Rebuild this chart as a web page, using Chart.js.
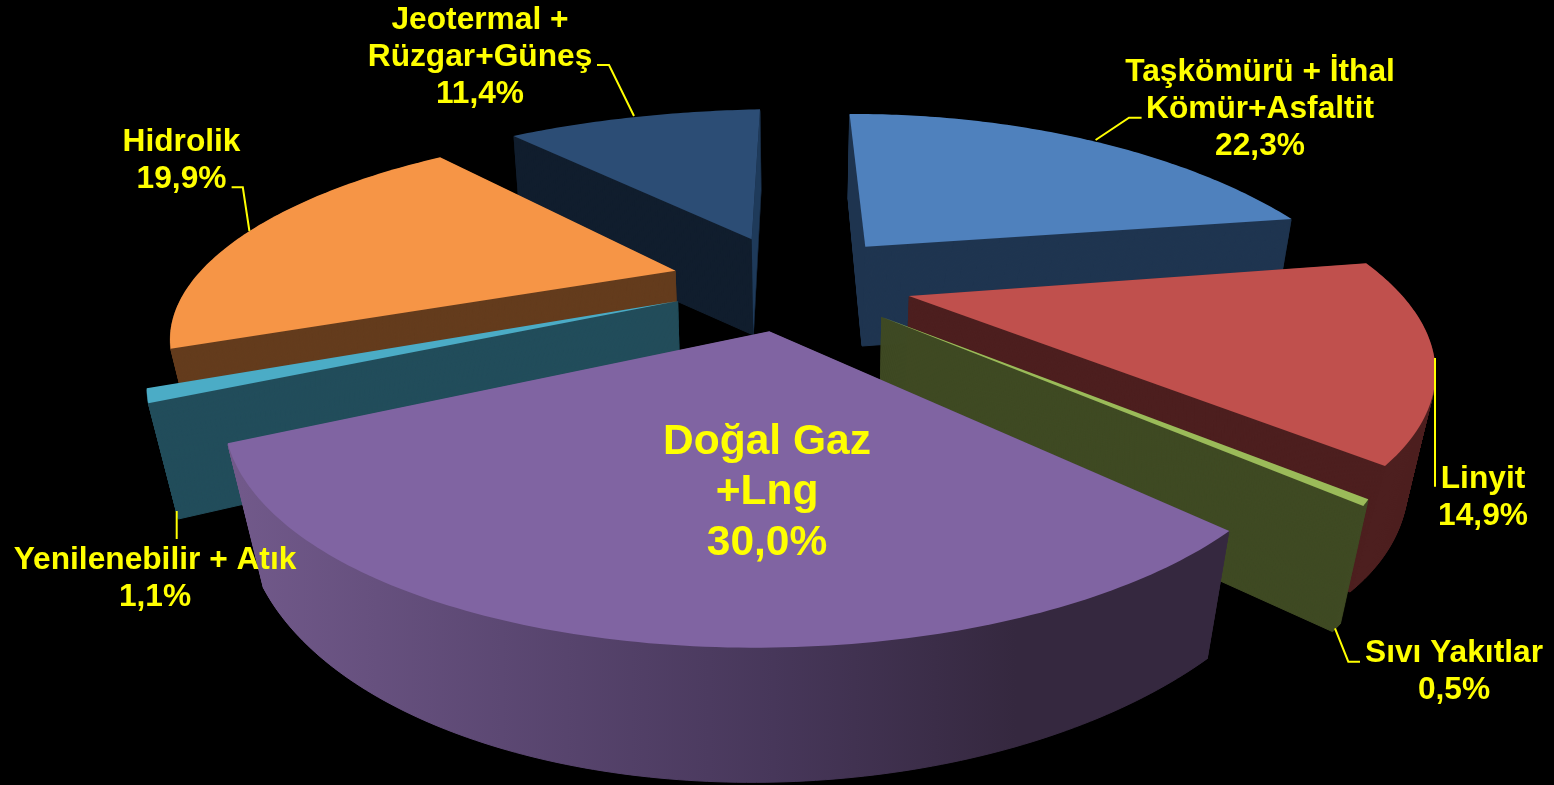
<!DOCTYPE html>
<html>
<head>
<meta charset="utf-8">
<style>html,body{margin:0;padding:0;background:#000;overflow:hidden}canvas{display:block}</style>
<script src="https://cdn.jsdelivr.net/npm/chart.js@4/dist/chart.umd.js"></script>
</head>
<body>
<canvas id="c" width="1554" height="785"></canvas>
<script>
const categories = ["Taşkömürü + İthal Kömür+Asfaltit","Linyit","Sıvı Yakıtlar","Doğal Gaz +Lng","Yenilenebilir + Atık","Hidrolik","Jeotermal + Rüzgar+Güneş"];
const values = [22.3,14.9,0.5,30.0,1.1,19.9,11.4];
const topColors = ["#4f81bd","#c0504d","#9bbb59","#8064a2","#4bacc6","#f69546","#2c4d75"];
const wallColors = ["#1f3550","#4d1f1f","#3f4a23",null,"#224d5b","#643c1d","#111e2e"];

// Projected placement of each exploded slice: tip, start corner, end corner, mid-arc; top face and bottom face.
const placement = [
 {top:[[865.3,246.7],[849.6,114],[1291.6,219],[1075,137]], bot:[[862,346],[848,198],[1275,316],[1070,232]]},
 {top:[[908.9,296],[1366.2,263.3],[1385,466],[1434,356]], bot:[[905,400],[1345,350],[1350,592],[1408,477]]},
 {top:[[881.3,316.7],[1368.3,499.3],[1363.3,506],null], bot:[[879,427],[1340.7,623.3],[1332.7,631.7],null]},
 {top:[[769.3,331.3],[1229.3,531],[227.7,443.3],[627,641]], bot:[[766,440],[1207.7,658.3],[263,587],[659,778]]},
 {top:[[678.1,301],[148.3,403.3],[146.7,388.3],null], bot:[[681,405],[178.3,519],[176,505],null]},
 {top:[[675.6,270.7],[170.6,348.7],[440.1,157.3],[248,232]], bot:[[679,372],[197,454],[445,250],[262,324]]},
 {top:[[751.7,239.3],[513.5,136],[760,109.3],[631,117.5]], bot:[[753.3,335],[520.5,232],[761,190],[635,215]]}
];
const drawOrder = [6,0,5,4,1,2,3];
const wallGradientStops = [[0,"#71598a"],[0.27,"#5c4873"],[0.55,"#47375a"],[0.8,"#35283f"],[1,"#35283f"]];
const edgeFace = {6:"#1e3a5a"};

const labelLines = [["Taşkömürü + İthal","Kömür+Asfaltit"],["Linyit"],["Sıvı Yakıtlar"],["Doğal Gaz","+Lng"],["Yenilenebilir + Atık"],["Hidrolik"],["Jeotermal +","Rüzgar+Güneş"]];
const labelPlace = [
 {x:1260,y:72,lh:37,size:31.7},{x:1483,y:479,lh:37,size:31.7},{x:1454,y:653,lh:37,size:31.7},
 {x:767,y:442,lh:50.5,size:42.5},{x:155,y:560,lh:37,size:31.7},{x:181.5,y:142,lh:37,size:31.7},{x:480,y:20,lh:37,size:31.7}
];
const leaders = [
 [[1095.6,140],[1129,117.7],[1141.6,117.7]],
 [[1435,358],[1435,486.7]],
 [[1335,628.3],[1348.3,661.7],[1360,661.7]],
 null,
 [[176.7,511],[176.7,539]],
 [[249.4,231],[242.8,187.3],[231.6,187.3]],
 [[634,116],[609,65],[597,65]]
];

function solve(A,b){
  const n=b.length;
  for(let i=0;i<n;i++){
    let p=i;for(let r=i+1;r<n;r++)if(Math.abs(A[r][i])>Math.abs(A[p][i]))p=r;
    [A[i],A[p]]=[A[p],A[i]];[b[i],b[p]]=[b[p],b[i]];
    for(let r=i+1;r<n;r++){const f=A[r][i]/A[i][i];for(let c=i;c<n;c++)A[r][c]-=f*A[i][c];b[r]-=f*b[i];}
  }
  const x=new Array(n);
  for(let i=n-1;i>=0;i--){let s=b[i];for(let c=i+1;c<n;c++)s-=A[i][c]*x[c];x[i]=s/A[i][i];}
  return x;
}
function homography(src,dst){
  const A=[],b=[];
  for(let i=0;i<4;i++){
    const [u,v]=src[i],[x,y]=dst[i];
    A.push([u,v,1,0,0,0,-u*x,-v*x]);b.push(x);
    A.push([0,0,0,u,v,1,-u*y,-v*y]);b.push(y);
  }
  const h=solve(A,b);
  return (u,v)=>{const w=h[6]*u+h[7]*v+1;return [(h[0]*u+h[1]*v+h[2])/w,(h[3]*u+h[4]*v+h[5])/w];};
}
function filledCorners(pts,half){
  if(pts[3])return pts;
  const [T,A,B]=pts,c=Math.cos(half);
  return [T,A,B,[T[0]+(A[0]+B[0]-2*T[0])/(2*c),T[1]+(A[1]+B[1]-2*T[1])/(2*c)]];
}
// A drawing context that passes the arc element's own path through a projection.
function projectedContext(real,el,map,wall){
  const R=el.outerRadius,cx=el.x,cy=el.y;
  const P=(x,y)=>map((x-cx)/R,(y-cy)/R);
  let first=true;
  const put=(x,y)=>{const p=P(x,y);if(first){real.moveTo(p[0],p[1]);first=false;}else real.lineTo(p[0],p[1]);};
  const api={
    beginPath(){real.beginPath();first=true;},
    moveTo(x,y){first=true;put(x,y);},
    lineTo(x,y){put(x,y);},
    arc(x,y,r,a0,a1,ccw){
      let d=a1-a0;
      if(ccw&&d>0)d-=2*Math.PI;
      if(!ccw&&d<0)d+=2*Math.PI;
      const n=Math.max(1,Math.ceil(Math.abs(d)/0.015));
      for(let i=0;i<=n;i++){const a=a0+d*i/n;put(x+r*Math.cos(a),y+r*Math.sin(a));}
    },
    closePath(){real.closePath();},
    fill(){real.fill();if(wall)real.stroke();}
  };
  return new Proxy(api,{
    get(t,k){return k in t?t[k]:()=>{};},
    set(t,k,v){if(k==='fillStyle'&&!wall)real.fillStyle=v;return true;}
  });
}
const pie3d={
  id:'pie3d',
  beforeDatasetDraw(chart){
    const ctx=chart.ctx,meta=chart.getDatasetMeta(0);
    const grad=ctx.createLinearGradient(240,0,1210,0);
    wallGradientStops.forEach(s=>grad.addColorStop(s[0],s[1]));
    for(const i of drawOrder){
      const el=meta.data[i],a=el.startAngle,b=el.endAngle,h=(b-a)/2,m=(a+b)/2;
      const src=[[0,0],[Math.cos(a),Math.sin(a)],[Math.cos(b),Math.sin(b)],[Math.cos(m),Math.sin(m)]];
      const top=filledCorners(placement[i].top,h),bot=filledCorners(placement[i].bot,h);
      ctx.save();
      ctx.fillStyle=wallColors[i]||grad;
      ctx.strokeStyle=wallColors[i]||grad;
      ctx.lineWidth=1;
      const layers=Math.ceil(Math.max(...top.map((p,j)=>Math.abs(bot[j][1]-p[1]))));
      for(let k=layers;k>=1;k--){
        const t=k/layers;
        const pts=top.map((p,j)=>[p[0]+(bot[j][0]-p[0])*t,p[1]+(bot[j][1]-p[1])*t]);
        el.draw(projectedContext(ctx,el,homography(src,pts),true));
      }
      if(edgeFace[i]){
        ctx.fillStyle=edgeFace[i];ctx.beginPath();
        ctx.moveTo(...top[0]);ctx.lineTo(...top[2]);ctx.lineTo(...bot[2]);ctx.lineTo(...bot[0]);ctx.closePath();ctx.fill();
      }
      el.draw(projectedContext(ctx,el,homography(src,top),false));
      ctx.restore();
    }
    return false;
  },
  afterDraw(chart){
    const ctx=chart.ctx;
    ctx.save();
    ctx.strokeStyle="#ffff00";ctx.lineWidth=2;
    leaders.forEach(l=>{if(!l)return;ctx.beginPath();l.forEach((p,j)=>j?ctx.lineTo(p[0],p[1]):ctx.moveTo(p[0],p[1]));ctx.stroke();});
    ctx.fillStyle="#ffff00";ctx.textAlign="center";ctx.textBaseline="middle";
    categories.forEach((c,i)=>{
      const lp=labelPlace[i];
      ctx.font=`bold ${lp.size}px "Liberation Sans", Arial, sans-serif`;
      const lines=[...labelLines[i],values[i].toFixed(1).replace('.',',')+'%'];
      lines.forEach((s,j)=>ctx.fillText(s,lp.x,lp.y+j*lp.lh));
    });
    ctx.restore();
  }
};
new Chart(document.getElementById('c'),{
  type:'pie',
  data:{labels:categories,datasets:[{data:values,backgroundColor:topColors,borderWidth:0}]},
  options:{responsive:false,animation:false,plugins:{legend:{display:false},tooltip:{enabled:false}}},
  plugins:[pie3d]
});
</script>
</body>
</html>
